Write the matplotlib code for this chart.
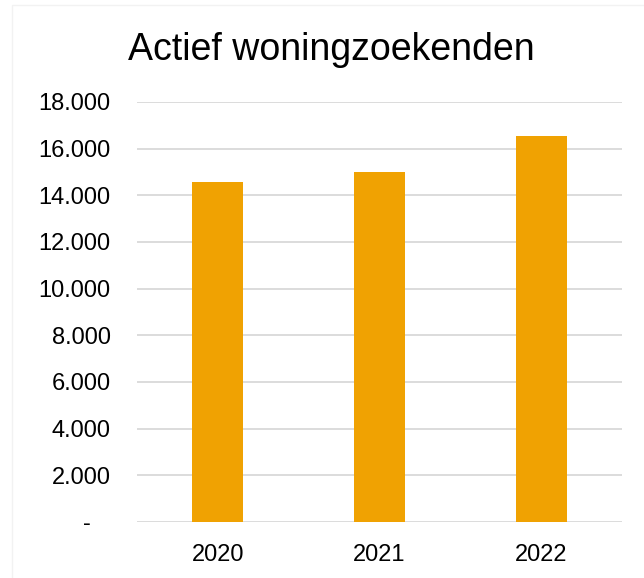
import matplotlib
matplotlib.use("Agg")
import matplotlib.pyplot as plt
from matplotlib.ticker import FuncFormatter
from matplotlib.patches import Rectangle

categories = ["2020", "2021", "2022"]
values = [14580, 14990, 16540]
yticks = [0, 2000, 4000, 6000, 8000, 10000, 12000, 14000, 16000, 18000]

plt.rcParams['font.family'] = ['Liberation Sans', 'DejaVu Sans']

W, H = 644, 578
fig = plt.figure(figsize=(W / 100, H / 100), dpi=100)
ax = fig.add_axes([137 / W, 1 - 522 / H, (622 - 137) / W, (522 - 102) / H])

x = list(range(len(categories)))
ax.bar(x, values, width=0.316, color="#F0A202", zorder=3)
ax.set_xlim(-0.5, len(categories) - 0.5)
ax.set_ylim(0, 18000)
ax.set_yticks(yticks)

def fmt(v, pos):
    if v == 0:
        return "-   "
    return f"{int(v):,}".replace(",", ".")

ax.yaxis.set_major_formatter(FuncFormatter(fmt))
ax.set_xticks(x)
ax.set_xticklabels(categories)
ax.grid(axis="y", color="#d9d9d9", linewidth=1.3, zorder=0)
for s in ax.spines.values():
    s.set_visible(False)
ax.tick_params(axis="both", length=0, labelsize=17, colors="black")
ax.tick_params(axis="y", pad=19)
ax.tick_params(axis="x", pad=16)

fig.text(331.5 / W, 1 - 50 / H, "Actief woningzoekenden", ha="center", va="center", fontsize=27)

fig.patches.append(Rectangle((12 / W, -0.01), 1.0, 1 - 5 / H + 0.01, transform=fig.transFigure,
                             fill=False, edgecolor="#f2f2f2", linewidth=1))

fig.savefig("out.png", dpi=100)
